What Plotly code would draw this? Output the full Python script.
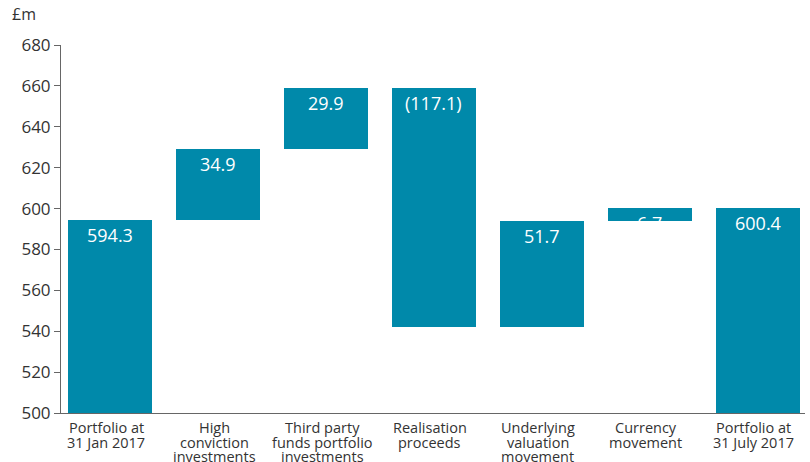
import plotly.graph_objects as go

categories = [["Portfolio at", "31 Jan 2017"],
              ["High", "conviction", "investments"],
              ["Third party", "funds portfolio", "investments"],
              ["Realisation", "proceeds"],
              ["Underlying", "valuation", "movement"],
              ["Currency", "movement"],
              ["Portfolio at", "31 July 2017"]]
values = [594.3, 34.9, 29.9, -117.1, 51.7, 6.7, 600.4]
measures = ["absolute", "relative", "relative", "relative", "relative", "relative", "total"]
y_ticks = [500, 520, 540, 560, 580, 600, 620, 640, 660, 680]

TEAL = "#0089AA"
FONT = "Open Sans"

bases, heights, tops, texts = [], [], [], []
running = 0.0
for v, m in zip(values, measures):
    if m in ("absolute", "total"):
        running = v
        bases.append(0)
        heights.append(v)
        tops.append(v)
    else:
        new = running + v
        lo, hi = min(running, new), max(running, new)
        bases.append(lo)
        heights.append(hi - lo)
        tops.append(hi)
        running = new
    texts.append(f"({abs(v):.1f})" if v < 0 else f"{v:.1f}")

xs = list(range(len(categories)))

fig = go.Figure()
fig.add_trace(go.Bar(x=xs, y=heights, base=bases, marker_color=TEAL,
                     marker_line_width=0, width=0.78, hoverinfo="skip"))

for x, t, txt in zip(xs, tops, texts):
    fig.add_annotation(x=x, y=t, text=txt, showarrow=False, yanchor="top", yshift=-1,
                       font=dict(family=FONT, size=18, color="white"))

# category labels, one line each for tight line spacing
for x, lines in zip(xs, categories):
    for i, line in enumerate(lines):
        fig.add_annotation(x=x, xref="x", y=0, yref="paper", text=line, showarrow=False,
                           yanchor="top", yshift=-3 - i * 14.5, xshift=-4,
                           font=dict(family=FONT, size=14.5, color="#333333"))

fig.add_annotation(xref="paper", yref="paper", x=0, y=1, xshift=-51, yshift=18,
                   xanchor="left", yanchor="bottom", text="£m", showarrow=False,
                   font=dict(family=FONT, size=16, color="#333333"))

fig.update_layout(
    width=810, height=462,
    margin=dict(l=61, r=5, t=45, b=49),
    paper_bgcolor="white", plot_bgcolor="white",
    showlegend=False, bargap=0,
    xaxis=dict(range=[-0.455, 6.437], tickvals=xs, showticklabels=False,
               showline=True, linecolor="#666666", linewidth=1, ticks="",
               showgrid=False, zeroline=False, automargin=False),
    yaxis=dict(range=[500, 680], tickvals=y_ticks, showline=True, linecolor="#666666",
               linewidth=1, ticks="outside", ticklen=6, tickcolor="#666666",
               showgrid=False, zeroline=False, automargin=False,
               tickfont=dict(family=FONT, size=17, color="#333333")),
)

fig.write_html("out.html")
